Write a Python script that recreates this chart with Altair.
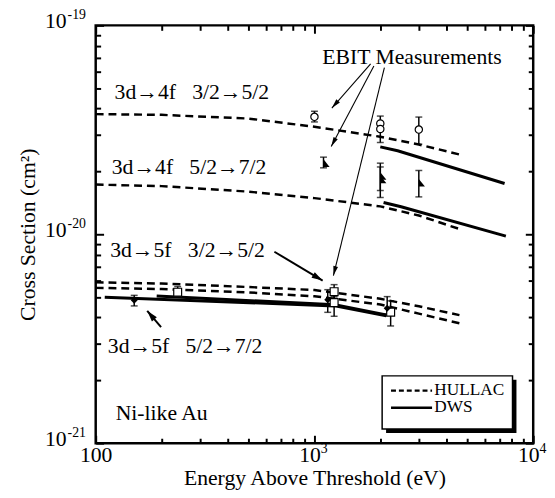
import math
import altair as alt
import pandas as pd

FONT = "Liberation Serif"
W, H = 444, 424
XMIN, XMAX = 100, 10000
YMIN, YMAX = 1e-21, 1e-19

# ---------------- data ----------------
# HULLAC (dashed)
hullac_energy = [100, 200, 500, 1000, 2000, 3000, 4600]
hullac_4f_32 = [3.76e-20, 3.73e-20, 3.58e-20, 3.27e-20, 2.93e-20, 2.69e-20, 2.41e-20]
hullac_4f_52 = [1.73e-20, 1.70e-20, 1.60e-20, 1.49e-20, 1.36e-20, 1.23e-20, 1.06e-20]
hullac_5f_32 = [5.89e-21, 5.81e-21, 5.59e-21, 5.41e-21, 4.91e-21, 4.52e-21, 4.10e-21]
hullac_5f_52 = [5.54e-21, 5.47e-21, 5.27e-21, 5.05e-21, 4.61e-21, 4.17e-21, 3.75e-21]

# DWS (solid)
dws_4f_32_energy = [2000, 2400, 7400]
dws_4f_32 = [2.62e-20, 2.51e-20, 1.75e-20]
dws_4f_52_energy = [2070, 2490, 7500]
dws_4f_52 = [1.42e-20, 1.355e-20, 9.8e-21]
dws_5f_32_energy = [190, 1240, 2130]
dws_5f_32 = [5.06e-21, 4.60e-21, 4.11e-21]
dws_5f_52_energy = [110, 1240, 2130]
dws_5f_52 = [5.00e-21, 4.54e-21, 4.07e-21]

# EBIT measurements
ebit_4f_32_energy = [1000, 2000, 2000, 3000]
ebit_4f_32 = [3.65e-20, 3.39e-20, 3.19e-20, 3.17e-20]
ebit_4f_32_lo = [3.45e-20, 3.12e-20, 2.75e-20, 2.70e-20]
ebit_4f_32_hi = [3.88e-20, 3.68e-20, 3.40e-20, 3.64e-20]

ebit_4f_52_energy = [1100, 2000, 2000, 3000]
ebit_4f_52 = [2.19e-20, 1.90e-20, 1.83e-20, 1.765e-20]
ebit_4f_52_lo = [2.08e-20, 1.62e-20, 1.50e-20, 1.51e-20]
ebit_4f_52_hi = [2.34e-20, 2.19e-20, 2.10e-20, 2.02e-20]

ebit_5f_32_energy = [237, 1230, 1230, 2230]
ebit_5f_32 = [5.28e-21, 5.31e-21, 4.71e-21, 4.24e-21]
ebit_5f_32_lo = [5.10e-21, 4.95e-21, 4.05e-21, 3.64e-21]
ebit_5f_32_hi = [5.62e-21, 5.74e-21, 5.05e-21, 4.80e-21]

ebit_5f_52_energy = [150, 1150, 2150]
ebit_5f_52 = [4.83e-21, 4.86e-21, 4.42e-21]
ebit_5f_52_lo = [4.54e-21, 4.23e-21, 4.15e-21]
ebit_5f_52_hi = [5.10e-21, 5.43e-21, 5.03e-21]

# annotation texts
NB = "\u00a0\u00a0\u00a0"
label_texts = ["3d\u21924f" + NB + "3/2\u21925/2", "3d\u21924f" + NB + "5/2\u21927/2",
               "3d\u21925f" + NB + "3/2\u21925/2", "3d\u21925f" + NB + "5/2\u21927/2",
               "Ni-like Au", "EBIT Measurements"]
label_energy = [122, 118.4, 116.5, 113.6, 123.4, 1086]
label_sigma = [4.45e-20, 1.95e-20, 7.76e-21, 2.69e-21, 1.29e-21, 6.50e-20]

# arrows (start -> tip)
arrow_start_energy = [1806, 1869, 2088, 656, 199]
arrow_start_sigma = [6.54e-20, 6.385e-20, 6.27e-20, 8.25e-21, 3.59e-21]
arrow_end_energy = [1201, 1193, 1221, 1090, 172]
arrow_end_sigma = [4.02e-20, 2.63e-20, 6.34e-21, 6.0e-21, 4.30e-21]

# legend
legend_box_energy = [2039, 8043]
legend_box_sigma = [1.168e-21, 2.10e-21]
legend_line_energy = [2239, 3449]
legend_line_sigma = [1.784e-21, 1.479e-21]
legend_text_energy = 3532
legend_text_sigma = [1.71e-21, 1.416e-21]
legend_texts = ["HULLAC", "DWS"]

# axis ticks and labels
x_major = [100, 1000, 10000]
x_minor = [m * 10 ** d for d in (2, 3) for m in range(2, 10)]
y_major = [1e-21, 1e-20, 1e-19]
y_minor = [m * 10.0 ** d for d in (-21, -20) for m in range(2, 10)]
x_label_plain = "100"
x_exponents = ["3", "4"]
y_exponents = ["-21", "-20", "-19"]

# ---------------- helpers ----------------
xs = alt.Scale(type="log", domain=[XMIN, XMAX], nice=False)
ys = alt.Scale(type="log", domain=[YMIN, YMAX], nice=False)


def X(f="E"):
    return alt.X(f"{f}:Q", scale=xs, axis=None)


def Y(f="S"):
    return alt.Y(f"{f}:Q", scale=ys, axis=None)


def px(e):
    return W * (math.log10(e) - 2) / 2


def py(s):
    return H * (-19 - math.log10(s)) / 2


def series_df(pairs):
    rows = []
    for name, es, ss in pairs:
        for i, (e, s) in enumerate(zip(es, ss)):
            rows.append({"series": name, "E": e, "S": s, "o": i})
    return pd.DataFrame(rows)


hullac_df = series_df([
    ("4f32", hullac_energy, hullac_4f_32),
    ("4f52", hullac_energy, hullac_4f_52),
    ("5f32", hullac_energy, hullac_5f_32),
    ("5f52", hullac_energy, hullac_5f_52),
])
dws_df = series_df([
    ("4f32", dws_4f_32_energy, dws_4f_32),
    ("4f52", dws_4f_52_energy, dws_4f_52),
    ("5f32", dws_5f_32_energy, dws_5f_32),
    ("5f52", dws_5f_52_energy, dws_5f_52),
])


def pts_df(es, ss, lo, hi):
    return pd.DataFrame({"E": es, "S": ss, "lo": lo, "hi": hi})


circ_df = pts_df(ebit_4f_32_energy, ebit_4f_32, ebit_4f_32_lo, ebit_4f_32_hi)
tri_df = pts_df(ebit_4f_52_energy, ebit_4f_52, ebit_4f_52_lo, ebit_4f_52_hi)
sq_df = pts_df(ebit_5f_32_energy, ebit_5f_32, ebit_5f_32_lo, ebit_5f_32_hi)
dia_df = pts_df(ebit_5f_52_energy, ebit_5f_52, ebit_5f_52_lo, ebit_5f_52_hi)
all_pts = pd.concat([circ_df, tri_df, sq_df, dia_df], ignore_index=True)

layers = []

# legend box (shadow + box)
sh_dx = 4 * 2 / W
sh_dy = 4 * 2 / H
shadow_df = pd.DataFrame({
    "E": [legend_box_energy[0] * 10 ** sh_dx], "E2": [legend_box_energy[1] * 10 ** sh_dx],
    "S": [legend_box_sigma[0] / 10 ** sh_dy], "S2": [legend_box_sigma[1] / 10 ** sh_dy]})
box_df = pd.DataFrame({"E": [legend_box_energy[0]], "E2": [legend_box_energy[1]],
                       "S": [legend_box_sigma[0]], "S2": [legend_box_sigma[1]]})
layers.append(alt.Chart(shadow_df).mark_rect(color="black").encode(
    x=X(), x2="E2:Q", y=Y(), y2="S2:Q"))
layers.append(alt.Chart(box_df).mark_rect(fill="white", stroke="black", strokeWidth=1.5).encode(
    x=X(), x2="E2:Q", y=Y(), y2="S2:Q"))

# legend sample lines
leg_dash = pd.DataFrame({"E": [legend_line_energy[0]], "E2": [legend_line_energy[1]],
                         "S": [legend_line_sigma[0]]})
leg_solid = pd.DataFrame({"E": [legend_line_energy[0]], "E2": [legend_line_energy[1]],
                          "S": [legend_line_sigma[1]]})
layers.append(alt.Chart(leg_dash).mark_rule(color="black", strokeWidth=2.2, strokeDash=[5, 3]).encode(
    x=X(), x2="E2:Q", y=Y()))
layers.append(alt.Chart(leg_solid).mark_rule(color="black", strokeWidth=2.5).encode(
    x=X(), x2="E2:Q", y=Y()))
leg_txt = pd.DataFrame({"E": [legend_text_energy] * 2, "S": legend_text_sigma, "t": legend_texts})
layers.append(alt.Chart(leg_txt).mark_text(align="left", baseline="alphabetic", font=FONT,
                                           fontSize=17.5, color="black").encode(
    x=X(), y=Y(), text="t:N"))

# theory curves
layers.append(alt.Chart(hullac_df).mark_line(color="black", strokeWidth=2.5, strokeDash=[8, 5]).encode(
    x=X(), y=Y(), detail="series:N", order="o:Q"))
layers.append(alt.Chart(dws_df).mark_line(color="black", strokeWidth=3).encode(
    x=X(), y=Y(), detail="series:N", order="o:Q"))

# error bars
layers.append(alt.Chart(all_pts).mark_rule(color="black", strokeWidth=1.5).encode(
    x=X(), y=Y("lo"), y2="hi:Q"))
layers.append(alt.Chart(all_pts).mark_tick(color="black", orient="horizontal", size=7, thickness=1.5).encode(
    x=X(), y=Y("lo")))
layers.append(alt.Chart(all_pts).mark_tick(color="black", orient="horizontal", size=7, thickness=1.5).encode(
    x=X(), y=Y("hi")))

# markers
layers.append(alt.Chart(circ_df).mark_point(shape="circle", size=55, filled=True, fill="white",
                                             stroke="black", strokeWidth=1.2, opacity=1).encode(x=X(), y=Y()))
layers.append(alt.Chart(sq_df).mark_point(shape="square", size=64, filled=True, fill="white",
                                           stroke="black", strokeWidth=1.2, opacity=1).encode(x=X(), y=Y()))
layers.append(alt.Chart(tri_df).mark_point(shape="M0,-1L0,1L1.6,1Z", size=60, filled=True,
                                            color="black", opacity=1).encode(x=X(), y=Y()))
layers.append(alt.Chart(dia_df).mark_point(shape="diamond", size=50, filled=True,
                                            color="black", opacity=1).encode(x=X(), y=Y()))

# arrows
arr = pd.DataFrame({"E": arrow_start_energy, "S": arrow_start_sigma,
                    "E2": arrow_end_energy, "S2": arrow_end_sigma})
arr["ang"] = [
    (math.degrees(math.atan2(px(e2) - px(e1), -(py(s2) - py(s1)))) + 360) % 360
    for e1, s1, e2, s2 in zip(arr.E, arr.S, arr.E2, arr.S2)
]
thin = arr.iloc[:3]
thick = arr.iloc[3:]
layers.append(alt.Chart(thin).mark_rule(color="black", strokeWidth=1.1).encode(
    x=X(), y=Y(), x2="E2:Q", y2="S2:Q"))
layers.append(alt.Chart(thick).mark_rule(color="black", strokeWidth=2).encode(
    x=X(), y=Y(), x2="E2:Q", y2="S2:Q"))
layers.append(alt.Chart(thin).mark_point(shape="M0,0L-0.65,2.6L0.65,2.6Z", size=55, filled=True,
                                          color="black", opacity=1).encode(
    x=X("E2"), y=Y("S2"), angle=alt.Angle("ang:Q", scale=None)))
layers.append(alt.Chart(thick).mark_point(shape="M0,0L-0.75,2.6L0.75,2.6Z", size=75, filled=True,
                                           color="black", opacity=1).encode(
    x=X("E2"), y=Y("S2"), angle=alt.Angle("ang:Q", scale=None)))

# annotation text
lab = pd.DataFrame({"E": label_energy, "S": label_sigma, "t": label_texts})
layers.append(alt.Chart(lab).mark_text(align="left", baseline="alphabetic", font=FONT,
                                       fontSize=22, color="black").encode(
    x=X(), y=Y(), text="t:N"))

# ---------------- axes ----------------
dummy = pd.DataFrame({"E": [1000], "S": [1e-20]})


def axis_layer(xaxis, yaxis):
    return alt.Chart(dummy).mark_point(opacity=0).encode(
        x=alt.X("E:Q", scale=xs, axis=xaxis), y=alt.Y("S:Q", scale=ys, axis=yaxis))


lab_common = dict(ticks=False, domain=False, grid=False, labelFont=FONT, labelColor="black",
                  labelFlush=False, labelOverlap=False)
tick_common = dict(labels=False, domain=False, grid=False, title=None, ticks=True,
                   tickColor="black", tickWidth=2)

# x labels: "100", then "10" + superscript exponent
x_axis_100 = alt.Axis(orient="bottom", values=[x_major[0]], labelExpr=f"'{x_label_plain}'",
                      labelFontSize=22, labelPadding=2,
                      title="Energy Above Threshold (eV)", titleFont=FONT, titleFontSize=22,
                      titleFontWeight="normal", titleColor="black", titlePadding=2, **lab_common)
x_axis_10 = alt.Axis(orient="bottom", values=x_major[1:], labelExpr="'10'", labelFontSize=22,
                     labelPadding=2, labelAlign="right", labelOffset=6, title=None, **lab_common)
x_axis_exp = alt.Axis(orient="bottom", values=x_major[1:],
                      labelExpr=f"datum.value < 5000 ? '{x_exponents[0]}' : '{x_exponents[1]}'",
                      labelFontSize=14, labelPadding=5, labelAlign="left", labelOffset=6,
                      labelBaseline="middle", title=None, **lab_common)

y_axis_10 = alt.Axis(orient="left", values=y_major, labelExpr="'10'", labelFontSize=22,
                     labelPadding=30, labelBaseline="alphabetic", labelOffset=2,
                     title="Cross Section (cm\u00b2)", titleFont=FONT, titleFontSize=22,
                     titleFontWeight="normal", titleColor="black", titlePadding=5, **lab_common)
y_axis_exp = alt.Axis(orient="left", values=y_major,
                      labelExpr=(f"datum.value < 5e-21 ? '{y_exponents[0]}' : datum.value < 5e-20 ? "
                                 f"'{y_exponents[1]}' : '{y_exponents[2]}'"),
                      labelFontSize=14, labelPadding=29, labelAlign="left", labelBaseline="alphabetic",
                      labelOffset=-7, title=None, **lab_common)

layers.append(axis_layer(x_axis_100, y_axis_10))
layers.append(axis_layer(x_axis_10, None))
layers.append(axis_layer(x_axis_exp, None))
layers.append(axis_layer(None, y_axis_exp))

for vals, size in ((x_major, 8), (x_minor, 5)):
    layers.append(axis_layer(alt.Axis(orient="top", offset=-H, values=vals, tickSize=size, **tick_common), None))
    layers.append(axis_layer(alt.Axis(orient="bottom", offset=-H, values=vals, tickSize=size, **tick_common), None))
for vals, size in ((y_major, 8), (y_minor, 5)):
    layers.append(axis_layer(None, alt.Axis(orient="right", offset=-W, values=vals, tickSize=size, **tick_common)))
    layers.append(axis_layer(None, alt.Axis(orient="left", offset=-W, values=vals, tickSize=size, **tick_common)))

chart = alt.layer(*layers).resolve_axis(x="independent", y="independent").properties(
    width=W, height=H,
    padding={"left": 89, "top": 14, "right": 14, "bottom": 52},
    autosize=alt.AutoSizeParams(type="none"),
    background="white",
).configure_view(stroke="black", strokeWidth=2.5)

chart.save("out.html", embed_options={"renderer": "svg", "actions": False})
